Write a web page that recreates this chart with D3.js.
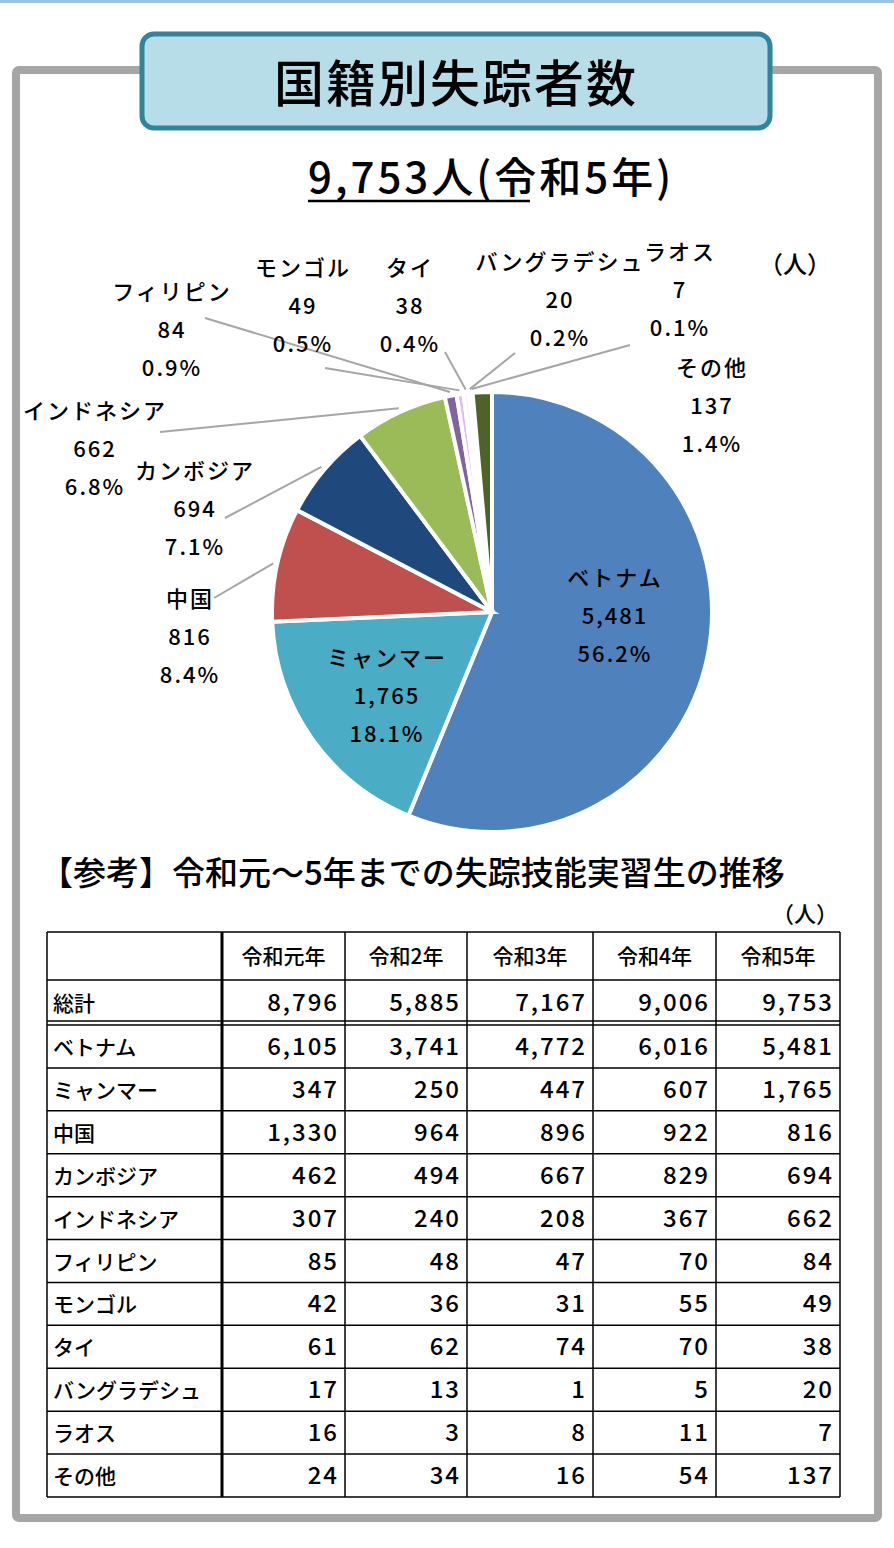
<!DOCTYPE html>
<html><head><meta charset="utf-8">
<script src="https://cdn.jsdelivr.net/npm/d3@7"></script>
<style>body{margin:0;background:#fff}text{font-family:"Noto Sans CJK JP",sans-serif;font-weight:500}</style>
</head><body><div id="chart"></div>
<script>
// pie data (令和5年)
let countries = ["ベトナム","ミャンマー","中国","カンボジア","インドネシア","フィリピン","モンゴル","タイ","バングラデシュ","ラオス","その他"];
let counts = [5481,1765,816,694,662,84,49,38,20,7,137];
let shares = ["56.2%","18.1%","8.4%","7.1%","6.8%","0.9%","0.5%","0.4%","0.2%","0.1%","1.4%"];
let colors = ["#4f81bd","#4bacc6","#c0504d","#1f497d","#9bbb59","#8064a2","#e6b9e6","#f2f2f2","#dcdcdc","#c6d9f1","#4f6228"];
// table
let years = ["令和元年","令和2年","令和3年","令和4年","令和5年"];
let totals = [8796,5885,7167,9006,9753];
let rowNames = ["ベトナム","ミャンマー","中国","カンボジア","インドネシア","フィリピン","モンゴル","タイ","バングラデシュ","ラオス","その他"];
let tableVals = [
 [6105,3741,4772,6016,5481],
 [347,250,447,607,1765],
 [1330,964,896,922,816],
 [462,494,667,829,694],
 [307,240,208,367,662],
 [85,48,47,70,84],
 [42,36,31,55,49],
 [61,62,74,70,38],
 [17,13,1,5,20],
 [16,3,8,11,7],
 [24,34,16,54,137]
];
// label layout: [x, y of first line]
let labelPos = [[615,586],[387,666],[190,607],[195,479],[95,419],[172,300],[303,276],[410,276],[560,270],[680,260],[712,376]];

let width = 894, height = 1548;
let svg = d3.select("#chart").append("svg").attr("width", width).attr("height", height);
let fmt = d3.format(",");

svg.append("rect").attr("x",0).attr("y",0).attr("width",width).attr("height",3).attr("fill","#9dc3e6");
svg.append("rect").attr("x",16).attr("y",70).attr("width",862).attr("height",1448)
 .attr("fill","none").attr("stroke","#a6a6a6").attr("stroke-width",8).attr("rx",3);
svg.append("rect").attr("x",142).attr("y",34).attr("width",628).attr("height",94).attr("rx",12)
 .attr("fill","#b7dde8").attr("stroke","#31849b").attr("stroke-width",5);
svg.append("text").attr("x",456).attr("y",102).attr("text-anchor","middle").attr("font-size",50)
 .attr("font-weight",700).attr("letter-spacing",2).text("国籍別失踪者数");
svg.append("text").attr("x",308).attr("y",193).attr("font-size",42).attr("font-weight",700)
 .attr("letter-spacing",3).text(fmt(d3.sum(counts)) + "人(令和5年)");
svg.append("line").attr("x1",308).attr("x2",530).attr("y1",201).attr("y2",201).attr("stroke","#000").attr("stroke-width",2.5);
svg.append("text").attr("x",795).attr("y",273).attr("text-anchor","middle").attr("font-size",24).text("（人）");

// pie
let cx = 492, cy = 612, r = 220;
let pie = d3.pie().sort(null).value(d => d)(counts);
let arc = d3.arc().innerRadius(0).outerRadius(r);
let g = svg.append("g").attr("transform", `translate(${cx},${cy})`);
g.selectAll("path").data(pie).enter().append("path")
 .attr("d", arc).attr("fill", (d,i) => colors[i]).attr("stroke","#fff").attr("stroke-width",4);

let edge = d3.arc().innerRadius(r+4).outerRadius(r+4);
let anchors = [null,null,[214,598],[225,518],[160,432],[205,318],[325,368],[445,352],[515,353],[630,345],null];
pie.forEach((d,i) => {
  if (!anchors[i]) return;
  let p = edge.centroid(d);
  svg.append("polyline").attr("fill","none").attr("stroke","#a6a6a6").attr("stroke-width",2)
   .attr("points", `${anchors[i][0]},${anchors[i][1]} ${cx+p[0]},${cy+p[1]}`);
});
countries.forEach((c,i) => {
  let [x,y] = labelPos[i];
  let t = svg.append("text").attr("text-anchor","middle").attr("font-size",22).attr("letter-spacing",2);
  [c, fmt(counts[i]), shares[i]].forEach((s,k) => t.append("tspan").attr("x",x).attr("y",y+k*38).text(s));
});

// table
svg.append("text").attr("x",40).attr("y",885).attr("font-size",33).attr("font-weight",700).text("【参考】令和元～5年までの失踪技能実習生の推移");
svg.append("text").attr("x",805).attr("y",922).attr("text-anchor","middle").attr("font-size",22).text("（人）");
let colX = [47,222,345,467,593,716,840];
let rowY = d3.scaleLinear().domain([0,11]).range([1025,1497]);
let tg = svg.append("g").attr("font-size",24);
let cell = (y,vals) => {
  vals.forEach((v,j) => tg.append("text").attr("x",colX[j+2]-6).attr("y",y).attr("text-anchor","end").attr("letter-spacing",2).text(fmt(v)));
};
years.forEach((yname,j) => tg.append("text").attr("x",(colX[j+1]+colX[j+2])/2).attr("y",964).attr("text-anchor","middle").attr("font-size",21).text(yname));
tg.append("text").attr("x",53).attr("y",1011).attr("font-size",21).text("総計");
cell(1011,totals);
rowNames.forEach((n,i) => {
  let y = rowY(i) + 30;
  tg.append("text").attr("x",53).attr("y",y).attr("font-size",21).text(n);
  cell(y,tableVals[i]);
});
let lines = svg.append("g").attr("stroke","#000").attr("stroke-width",1.5);
[932,980].concat(d3.range(12).map(i => rowY(i))).forEach(y => lines.append("line").attr("x1",47).attr("x2",840).attr("y1",y).attr("y2",y));
lines.append("line").attr("x1",47).attr("x2",840).attr("y1",1021).attr("y2",1021);
colX.forEach((x,j) => lines.append("line").attr("x1",x).attr("x2",x).attr("y1",932).attr("y2",1497).attr("stroke-width", j===1?3:1.5));
</script></body></html>
